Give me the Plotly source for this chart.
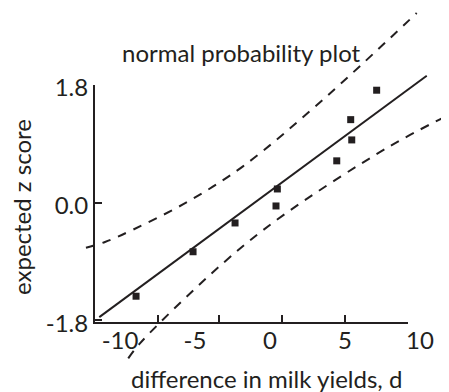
import plotly.graph_objects as go

# ---------------- data ----------------
diff_d = [-8.93, -5.13, -2.33, 0.40, 0.49, 4.45, 5.45, 5.38, 7.11]
z_score = [-1.43, -0.75, -0.31, -0.05, 0.21, 0.64, 0.96, 1.27, 1.72]

fit_d = [-11.38, 10.45]
fit_z = [-1.75, 1.94]

upper_d = [-12.27, -11.0, -9.11, -5.45, -1.78, 3.45, 9.78]
upper_z = [-0.69, -0.60, -0.41, 0.02, 0.56, 1.56, 2.90]

lower_d = [-9.45, -8.67, -3.11, 0.89, 7.89, 11.89]
lower_z = [-2.38, -2.15, -0.92, -0.19, 0.85, 1.34]

x_tick_vals = [-10, -5, 0, 5, 10]
y_tick_vals = [-1.8, 0.0, 1.8]
y_tick_text = ["-1.8", "0.0", "1.8"]
frame_x_ticks = [-7.5, -3.4, 0.8, 5.0, 9.2]

title_text = "normal probability plot"
x_title = "difference in milk yields, d"
y_title = "expected z score"

# ---------------- layout geometry ----------------
W, H = 449, 392
OFF = 8.0                              # page offset of the figure inside the window
X0_PX, X_PER_UNIT = 270.0, 15.0        # window pixel of d=0, pixels per unit d
Y0_PX, Y_PER_UNIT = 202.7, 65.4        # window pixel of z=0, pixels per unit z


def px_to_x(px):
    return (px - X0_PX) / X_PER_UNIT


def py_to_y(py):
    return (Y0_PX - py) / Y_PER_UNIT


def fx(px):   # window pixel -> paper x
    return (px - OFF) / W


def fy(py):   # window pixel -> paper y
    return (H - (py - OFF)) / H


X_RANGE = [px_to_x(OFF), px_to_x(OFF + W)]
Y_RANGE = [py_to_y(OFF + H), py_to_y(OFF)]

# frame (visible axes box) in window pixels
FL, FR, FT, FB = 95.0, 408.0, 85.0, 322.0
frame_xdom = [fx(FL), fx(FR)]
frame_ydom = [fy(FB), fy(FT)]
frame_xrange = [px_to_x(FL), px_to_x(FR)]
frame_yrange = [py_to_y(FB), py_to_y(FT)]

INK = "#231f20"
FONT = "Lato"
FS = 24

fig = go.Figure()

dash = "9px,8px"
fig.add_trace(go.Scatter(x=upper_d, y=upper_z, mode="lines",
                         line=dict(color=INK, width=2, dash=dash, shape="spline"),
                         xaxis="x", yaxis="y", hoverinfo="skip"))
fig.add_trace(go.Scatter(x=lower_d, y=lower_z, mode="lines",
                         line=dict(color=INK, width=2, dash=dash, shape="spline"),
                         xaxis="x", yaxis="y", hoverinfo="skip"))
fig.add_trace(go.Scatter(x=fit_d, y=fit_z, mode="lines",
                         line=dict(color=INK, width=2),
                         xaxis="x", yaxis="y"))
fig.add_trace(go.Scatter(x=diff_d, y=z_score, mode="markers",
                         marker=dict(symbol="square", size=7, color=INK, line=dict(width=0)),
                         xaxis="x", yaxis="y"))
# frame subplot holder
fig.add_trace(go.Scatter(x=[], y=[], xaxis="x2", yaxis="y2", showlegend=False))

fig.update_layout(
    width=W, height=H,
    margin=dict(l=0, r=0, t=0, b=0, autoexpand=False),
    paper_bgcolor="white", plot_bgcolor="rgba(0,0,0,0)",
    showlegend=False,
    font=dict(family=FONT, size=FS, color=INK),
    xaxis=dict(domain=[0, 1], range=X_RANGE, showgrid=False, zeroline=False,
               showline=False, ticks="", tickvals=x_tick_vals,
               ticktext=[str(v) for v in x_tick_vals],
               anchor="free", position=fy(FB), automargin=False,
               tickfont=dict(family=FONT, size=FS, color=INK),
               ticklabelstandoff=2),
    yaxis=dict(domain=[0, 1], range=Y_RANGE, visible=False, automargin=False),
    xaxis2=dict(domain=frame_xdom, range=frame_xrange, anchor="y2", automargin=False,
                showgrid=False, zeroline=False, showline=True, linecolor=INK,
                linewidth=2, ticks="inside", ticklen=7, tickwidth=2, tickcolor=INK,
                tickvals=frame_x_ticks, showticklabels=False),
    yaxis2=dict(domain=frame_ydom, range=frame_yrange, anchor="x2", automargin=False,
                showgrid=False, zeroline=False, showline=True, linecolor=INK,
                linewidth=2, ticks="inside", ticklen=7, tickwidth=2, tickcolor=INK,
                tickvals=y_tick_vals, ticktext=y_tick_text,
                tickfont=dict(family=FONT, size=FS, color=INK),
                ticklabelshift=3, ticklabelstandoff=0),
    annotations=[
        dict(text=title_text, x=fx(241.5), y=fy(53), xref="paper", yref="paper",
             xanchor="center", yanchor="middle", showarrow=False,
             font=dict(family=FONT, size=FS, color=INK)),
        dict(text=x_title, x=fx(266), y=fy(378), xref="paper", yref="paper",
             xanchor="center", yanchor="middle", showarrow=False,
             font=dict(family=FONT, size=FS, color=INK)),
        dict(text=y_title, x=fx(21), y=fy(207), xref="paper", yref="paper",
             xanchor="center", yanchor="middle", showarrow=False, textangle=-90,
             font=dict(family=FONT, size=FS, color=INK)),
    ],
)

fig.write_html("out.html")
